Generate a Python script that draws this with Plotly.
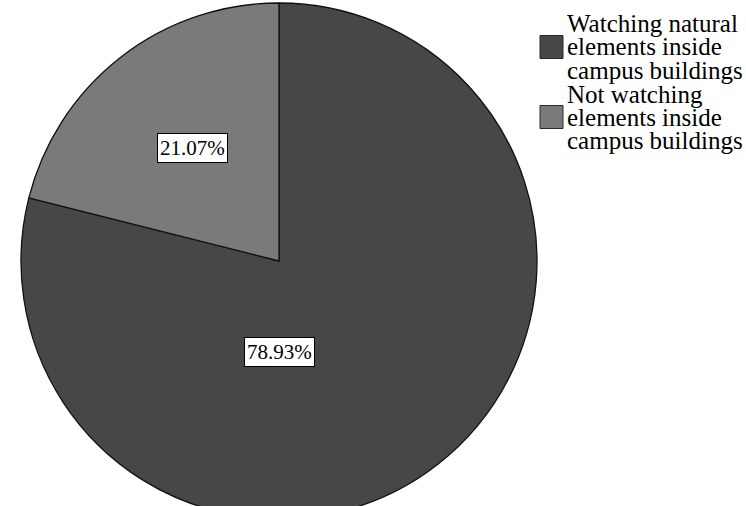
import plotly.graph_objects as go

# Survey shares
labels = ["Watching natural elements inside campus buildings",
          "Not watching elements inside campus buildings"]
legend_lines = [["Watching natural", "elements inside", "campus buildings"],
                ["Not watching", "elements inside", "campus buildings"]]
values = [78.93, 21.07]
colors = ["#474747", "#7a7a7a"]

W, H = 746, 524          # canvas is taller than the view; bottom of pie runs off
cx, cy, r = 279, 261, 258
FONT = "Liberation Serif, Times New Roman, serif"


def px(x):
    return x / W


def py(y):
    return 1 - y / H


fig = go.Figure(go.Pie(
    labels=labels,
    values=values,
    sort=False,
    direction="clockwise",
    rotation=0,
    marker=dict(colors=colors, line=dict(color="#111111", width=1.3)),
    textinfo="none",
    hoverinfo="label+percent",
    showlegend=False,
    domain=dict(x=[px(cx - r), px(cx + r)], y=[py(cy + r), py(cy - r)]),
))

annotations = []
# boxed percentage labels
label_pos = [(279, 351.5), (192.5, 147.5)]
for v, (lx, ly) in zip(values, label_pos):
    annotations.append(dict(
        x=px(lx), y=py(ly), xref="paper", yref="paper",
        text=f"{v:.2f}%", showarrow=False,
        font=dict(family=FONT, size=21, color="black"),
        bgcolor="white", bordercolor="black", borderwidth=1, borderpad=2,
        xanchor="center", yanchor="middle",
    ))

# legend: swatches plus tightly stacked label lines
shapes = []
line_gap = 23
block_top = [24, 94]
for i, (col, lines) in enumerate(zip(colors, legend_lines)):
    top = block_top[i]
    mid = top + line_gap
    shapes.append(dict(
        type="rect", xref="paper", yref="paper",
        x0=px(540), x1=px(563), y0=py(mid - 11.5), y1=py(mid + 11.5),
        fillcolor=col, line=dict(color="#2a2a2a", width=1),
    ))
    for j, t in enumerate(lines):
        annotations.append(dict(
            x=px(565), y=py(top + j * line_gap), xref="paper", yref="paper",
            text=t, showarrow=False, xanchor="left", yanchor="middle",
            font=dict(family=FONT, size=25, color="black"),
        ))

fig.update_layout(
    width=W, height=H,
    margin=dict(l=0, r=0, t=0, b=0),
    paper_bgcolor="white", plot_bgcolor="white",
    annotations=annotations, shapes=shapes,
)

fig.write_html(
    "out.html",
    post_script="document.documentElement.style.overflow='hidden';"
                "document.body.style.overflow='hidden';",
)
